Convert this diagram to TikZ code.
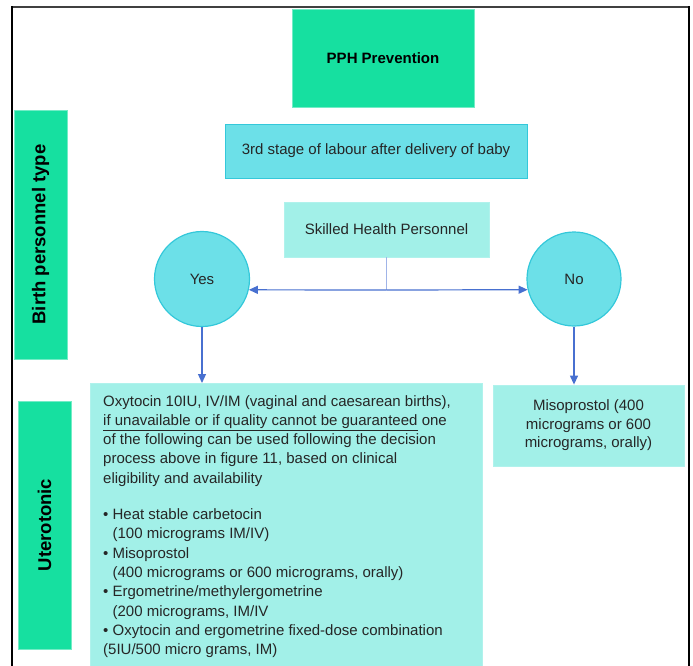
\documentclass[tikz,border=0pt]{standalone}
\usepackage{fontspec}
\setmainfont{Liberation Sans}
\usetikzlibrary{arrows.meta}

\definecolor{mint}{RGB}{22,224,160}
\definecolor{aqua}{RGB}{108,224,232}
\definecolor{aquaedge}{RGB}{52,200,218}
\definecolor{pale}{RGB}{162,240,232}
\definecolor{paleedge}{RGB}{176,242,236}
\definecolor{flow}{RGB}{72,112,208}
\definecolor{stemline}{RGB}{160,180,232}
\definecolor{ink}{RGB}{38,38,38}

\begin{document}
\begin{tikzpicture}[x=1pt,y=-1pt,
    every node/.style={text=ink, font=\fontsize{15}{19.3}\selectfont},
    title/.style={fill=mint, draw=mint!60!white, line width=0.8pt, font=\fontsize{15}{18}\selectfont\bfseries, text=black},
    sidebox/.style={fill=mint, draw=mint!60!white, line width=0.8pt, rotate=90, minimum width=249pt, minimum height=53pt,
      font=\fontsize{18.5}{22}\selectfont\bfseries, text=black},
    stagebox/.style={fill=aqua, draw=aquaedge, line width=1pt},
    softbox/.style={fill=pale, draw=paleedge, line width=0.8pt},
    answer/.style={circle, fill=aqua, draw=aquaedge, line width=1.2pt, minimum size=95pt, inner sep=0pt},
    link/.style={flow, line width=1.2pt, -{Triangle[length=9pt,width=8pt]}}]
  \useasboundingbox (0,0) rectangle (693,665);
  \clip (0,0) rectangle (693,665);

  % frame
  \draw[black!75, line width=2pt] (12,7) -- (688,7);
  \draw[black, line width=2.5pt] (12,6) -- (12,666) (689,6) -- (689,666);

  % headings
  \node[title, minimum width=182pt, minimum height=98pt] (pph) at (383,58) {PPH Prevention};
  \node[sidebox] (birth) at (40.5,234.5) {Birth personnel type};
  \node[sidebox, minimum width=248pt] (utero) at (44.5,525) {Uterotonic};

  % decision part
  \node[stagebox, minimum width=302pt, minimum height=54pt] (stage) at (376,151) {3rd stage of labour after delivery of baby};
  \node[softbox, minimum width=205pt, minimum height=55pt] (skilled) at (386.5,229.5) {Skilled Health Personnel};
  \node[answer] (yes) at (202,279) {Yes};
  \node[answer, minimum size=94pt] (no) at (574,279) {No};

  % uterotonic choices
  \node[softbox, anchor=north west, minimum width=392pt, minimum height=300pt] (oxy) at (90,383) {};
  \node[anchor=north west, align=left, inner sep=0pt] (oxytext) at (103,395) {Oxytocin 10IU, IV/IM (vaginal and caesarean births),\\
    \underline{if unavailable or if quality cannot be guaranteed} one\\
    of the following can be used following the decision\\
    process above in figure 11, based on clinical\\
    eligibility and availability\\[17pt]
    \textbullet\ Heat stable carbetocin\\
    \hphantom{\textbullet\ }(100 micrograms IM/IV)\\
    \textbullet\ Misoprostol\\
    \hphantom{\textbullet\ }(400 micrograms or 600 micrograms, orally)\\
    \textbullet\ Ergometrine/methylergometrine\\
    \hphantom{\textbullet\ }(200 micrograms, IM/IV\\
    \textbullet\ Oxytocin and ergometrine fixed-dose combination\\
    (5IU/500 micro grams, IM)};
  \node[softbox, minimum width=191pt, minimum height=81pt, align=center, font=\fontsize{15}{18.5}\selectfont] (miso) at (588.5,425.5)
    {Misoprostol (400\\ micrograms or 600\\ micrograms, orally)};

  % connectors
  \draw[stemline, line width=1.2pt] (skilled.south) -- (skilled.south |- 0,290) coordinate (split);
  \draw[link] (split) -- (yes.-13);
  \draw[link] (split) -- (no.193);
  \draw[link] (yes.south) -- (yes.south |- oxy.north);
  \draw[link] (no.south) -- (no.south |- miso.north);
\end{tikzpicture}
\end{document}
